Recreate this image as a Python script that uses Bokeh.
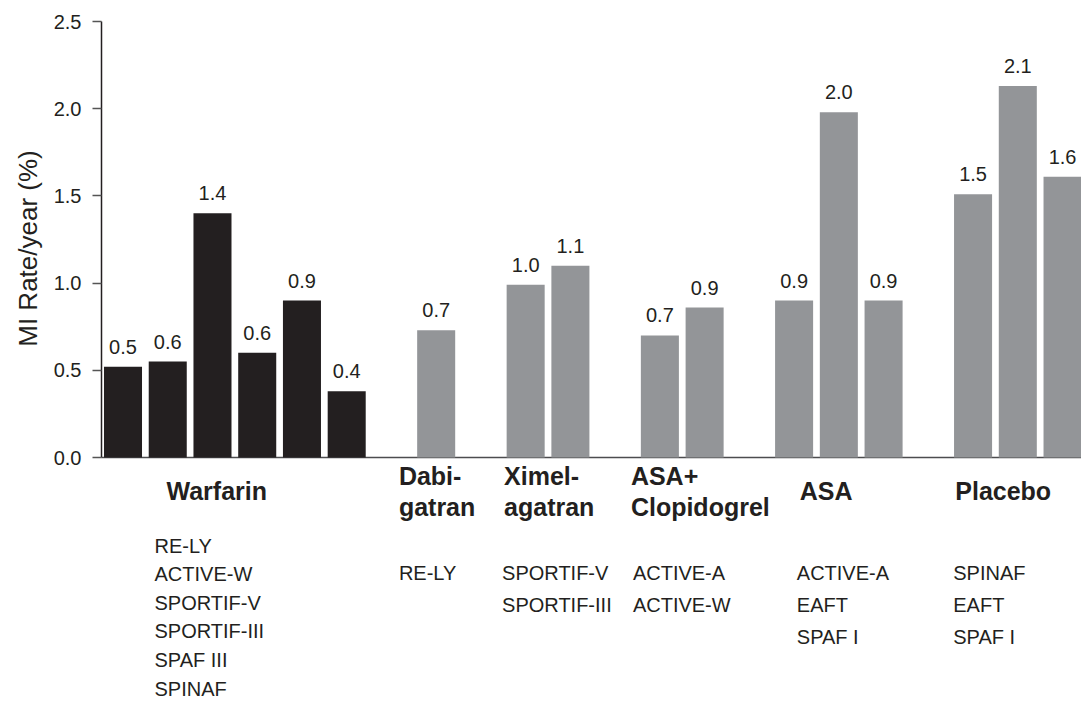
import math
from bokeh.plotting import figure
from bokeh.models import ColumnDataSource, Range1d, FixedTicker, PrintfTickFormatter, LinearAxis
from bokeh.core.properties import value
from bokeh.embed import file_html
from bokeh.resources import INLINE

# ---------------- data ----------------
group_titles = [["Warfarin"], ["Dabi-", "gatran"], ["Ximel-", "agatran"],
                ["ASA+", "Clopidogrel"], ["ASA"], ["Placebo"]]
trials = [["RE-LY", "ACTIVE-W", "SPORTIF-V", "SPORTIF-III", "SPAF III", "SPINAF"],
          ["RE-LY"],
          ["SPORTIF-V", "SPORTIF-III"],
          ["ACTIVE-A", "ACTIVE-W"],
          ["ACTIVE-A", "EAFT", "SPAF I"],
          ["SPINAF", "EAFT", "SPAF I"]]
rates = [[0.52, 0.55, 1.40, 0.60, 0.90, 0.38],
         [0.73],
         [0.99, 1.10],
         [0.70, 0.86],
         [0.90, 1.98, 0.90],
         [1.51, 2.13, 1.61]]
rate_labels = [["0.5", "0.6", "1.4", "0.6", "0.9", "0.4"],
               ["0.7"],
               ["1.0", "1.1"],
               ["0.7", "0.9"],
               ["0.9", "2.0", "0.9"],
               ["1.5", "2.1", "1.6"]]
y_ticks = [0.0, 0.5, 1.0, 1.5, 2.0, 2.5]
y_title = "MI Rate/year (%)"

# ---------------- layout / style ----------------
W, H = 1081, 702
AXIS_PX = 101              # x pixel of the value axis
SLOT0_PX = 122.5           # x pixel of first bar centre
PX_SLOT = 44.74            # px per bar slot
ZERO_PX = 457              # y pixel of value 0
TOP_PX = 21                # y pixel of value 2.5
Y_MAX = 2.5
U = Y_MAX / (ZERO_PX - TOP_PX)   # data units per px (y)
BAR_W = 0.85
INK = "#231f20"
DARK = "#231f20"
GREY = "#939598"
FONT = "Liberation Sans"

# label layout (px, relative to first bar centre of each group / to the baseline)
TITLE_DX = [43.5, -37.3, -21.6, -29.0, 5.7, -17.8]
TRIAL_DX = [31.5, -37.3, -23.6, -27.0, 2.7, -19.8]
TITLE_ONE_LINE_Y = 33
TITLE_TWO_LINE_Y = [18, 49]
TRIAL_Y0 = [88, 115, 115, 115, 115, 115]
TRIAL_STEP = [28.6, 32, 32, 32, 32, 32]
VALUE_GAP = 20
YTITLE_X_PX, YTITLE_Y_PX = 27, 248


def sx(px):
    """screen x pixel -> data x (slot units)"""
    return (px - SLOT0_PX) / PX_SLOT


def sy(px):
    """screen y pixel -> data y"""
    return (ZERO_PX - px) * U


p = figure(width=W, height=H, output_backend="svg", toolbar_location=None,
           x_range=Range1d(sx(0), sx(W)),
           y_range=Range1d(sy(H), sy(0)),
           x_axis_location=None, y_axis_location=None,
           min_border_left=0, min_border_right=0,
           min_border_top=0, min_border_bottom=0)
p.outline_line_color = None
p.xgrid.visible = False
p.ygrid.visible = False
p.background_fill_color = "white"
p.border_fill_color = "white"

# slot positions from group structure
xs, tops, labs, cols = [], [], [], []
first_slot = []
pos = 0
for gi, grp in enumerate(rates):
    first_slot.append(pos)
    for i, v in enumerate(grp):
        xs.append(pos + i)
        tops.append(v)
        labs.append(rate_labels[gi][i])
        cols.append(DARK if gi == 0 else GREY)
    pos += len(grp) + 1

# baseline (from the axis to the right edge)
p.segment(x0=[sx(AXIS_PX)], y0=[0], x1=[sx(W)], y1=[0],
          line_color="#4d4d4f", line_width=1.5)

src = ColumnDataSource(dict(x=xs, top=tops, lab=labs, col=cols,
                            ly=[t + VALUE_GAP * U for t in tops]))
p.vbar(x="x", top="top", bottom=0, width=BAR_W, fill_color="col",
       line_color=None, source=src)
p.text(x="x", y="ly", text="lab", source=src, text_align="center",
       text_baseline="alphabetic", text_font=value(FONT),
       text_font_size="20px", text_color=INK)

# group titles
tx, ty, tt = [], [], []
for gi, lines in enumerate(group_titles):
    x = first_slot[gi] + TITLE_DX[gi] / PX_SLOT
    if len(lines) == 1:
        tx.append(x); ty.append(-TITLE_ONE_LINE_Y * U); tt.append(lines[0])
    else:
        for li, line in enumerate(lines):
            tx.append(x); ty.append(-TITLE_TWO_LINE_Y[li] * U); tt.append(line)
p.text(x=tx, y=ty, text=tt, text_align="left", text_baseline="alphabetic",
       text_font=value(FONT), text_font_style="bold",
       text_font_size="25px", text_color=INK)

# trial names
rx, ry, rt = [], [], []
for gi, names in enumerate(trials):
    x = first_slot[gi] + TRIAL_DX[gi] / PX_SLOT
    for li, name in enumerate(names):
        rx.append(x)
        ry.append(-(TRIAL_Y0[gi] + li * TRIAL_STEP[gi]) * U)
        rt.append(name)
p.text(x=rx, y=ry, text=rt, text_align="left", text_baseline="alphabetic",
       text_font=value(FONT), text_font_size="20px", text_color=INK)

# y axis at a fixed location
ax = LinearAxis(fixed_location=sx(AXIS_PX), bounds=(y_ticks[0], y_ticks[-1]),
                ticker=FixedTicker(ticks=y_ticks),
                formatter=PrintfTickFormatter(format="%.1f"))
ax.axis_line_color = INK
ax.axis_line_width = 1.5
ax.major_tick_line_color = "#555555"
ax.major_tick_line_width = 1.5
ax.major_tick_out = 9
ax.major_tick_in = 0
ax.minor_tick_line_color = None
ax.major_label_standoff = 11
ax.major_label_text_font = FONT
ax.major_label_text_font_size = "20px"
ax.major_label_text_color = INK
p.add_layout(ax, "left")

# y-axis title
p.text(x=[sx(YTITLE_X_PX)], y=[sy(YTITLE_Y_PX)], text=[y_title],
       angle=math.pi / 2, text_align="center", text_baseline="alphabetic",
       text_font=value(FONT), text_font_size="26px", text_color=INK)

open("out.html", "w").write(file_html(p, INLINE))
